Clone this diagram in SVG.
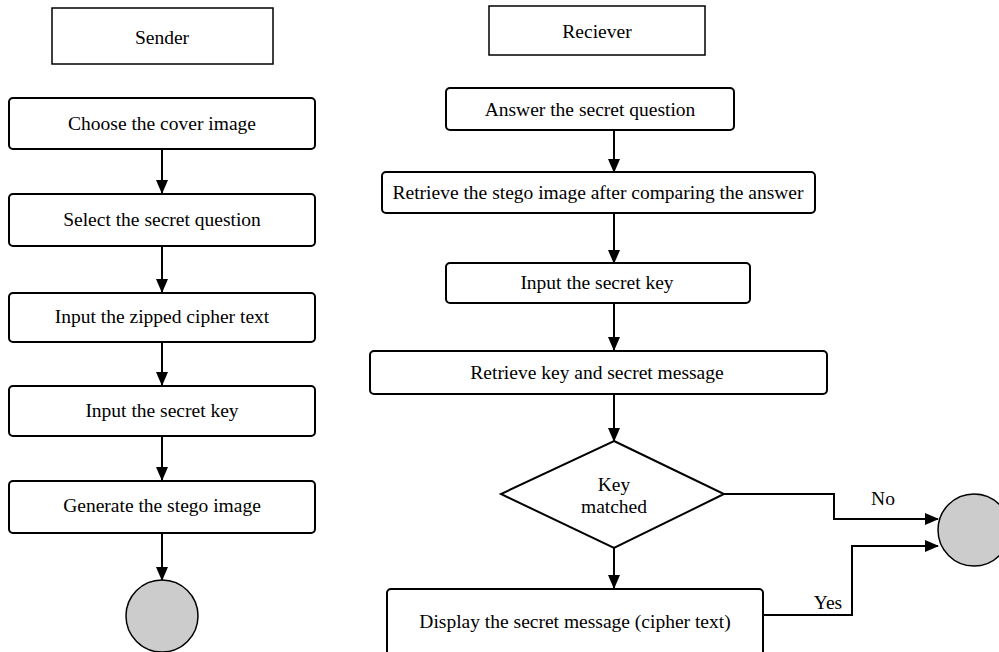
<svg xmlns="http://www.w3.org/2000/svg" width="999" height="652" viewBox="0 0 999 652">
<style>
.hdr{fill:#fff;stroke:#000;stroke-width:1.5}
.box{fill:#fff;stroke:#000;stroke-width:2}
.end{fill:#ccc;stroke:#000;stroke-width:1.5}
.t{font-family:"Liberation Serif","Times New Roman",serif;font-size:19.5px;fill:#000;text-anchor:middle}
.c{fill:none;stroke:#000;stroke-width:2}
</style>
<defs>
<marker id="ah" markerWidth="14" markerHeight="12" refX="13" refY="6" orient="auto" markerUnits="userSpaceOnUse">
<path d="M0,0 L14,6 L0,12 Z" fill="#000"/>
</marker>
</defs>
<g id="sender"><rect class="hdr" x="52" y="8" width="221" height="56"/><text class="t" x="162" y="44">Sender</text></g>
<g id="s1"><rect class="box" x="9" y="98" width="306" height="51" rx="4"/><text class="t" x="162" y="130">Choose the cover image</text></g>
<g id="s2"><rect class="box" x="9" y="194" width="306" height="52" rx="4"/><text class="t" x="162" y="226">Select the secret question</text></g>
<g id="s3"><rect class="box" x="9" y="293" width="306" height="49" rx="4"/><text class="t" x="162" y="323">Input the zipped cipher text</text></g>
<g id="s4"><rect class="box" x="9" y="386" width="306" height="50" rx="4"/><text class="t" x="162" y="417">Input the secret key</text></g>
<g id="s5"><rect class="box" x="9" y="481" width="306" height="52" rx="4"/><text class="t" x="162" y="512">Generate the stego image</text></g>
<g id="s_end"><circle class="end" cx="162" cy="616" r="36"/></g>

<g id="receiver"><rect class="hdr" x="489" y="6" width="216" height="49"/><text class="t" x="597" y="38">Reciever</text></g>
<g id="r1"><rect class="box" x="446" y="88" width="288" height="42" rx="4"/><text class="t" x="590" y="116">Answer the secret question</text></g>
<g id="r2"><rect class="box" x="382" y="172" width="433" height="41" rx="4"/><text class="t" x="598" y="199">Retrieve the stego image after comparing the answer</text></g>
<g id="r3"><rect class="box" x="446" y="263" width="304" height="40" rx="4"/><text class="t" x="597" y="289">Input the secret key</text></g>
<g id="r4"><rect class="box" x="370" y="351" width="457" height="43" rx="4"/><text class="t" x="597" y="379">Retrieve key and secret message</text></g>
<g id="r5"><polygon class="box" points="614,441 724,494 614,548 501,494"/><text class="t" x="614" y="491">Key</text><text class="t" x="614" y="513">matched</text></g>
<g id="r6"><rect class="box" x="387" y="589" width="376" height="80" rx="4"/><text class="t" x="575" y="628">Display the secret message (cipher text)</text></g>
<g id="r_end"><circle class="end" cx="974" cy="530" r="36"/></g>

<g id="connectors">
<line class="c" x1="162" y1="149" x2="162" y2="193" marker-end="url(#ah)"/>
<line class="c" x1="162" y1="246" x2="162" y2="292" marker-end="url(#ah)"/>
<line class="c" x1="162" y1="342" x2="162" y2="385" marker-end="url(#ah)"/>
<line class="c" x1="162" y1="436" x2="162" y2="480" marker-end="url(#ah)"/>
<line class="c" x1="162" y1="533" x2="162" y2="580" marker-end="url(#ah)"/>
<line class="c" x1="614" y1="130" x2="614" y2="172" marker-end="url(#ah)"/>
<line class="c" x1="614" y1="213" x2="614" y2="263" marker-end="url(#ah)"/>
<line class="c" x1="614" y1="303" x2="614" y2="350" marker-end="url(#ah)"/>
<line class="c" x1="614" y1="394" x2="614" y2="441" marker-end="url(#ah)"/>
<line class="c" x1="614" y1="548" x2="614" y2="588" marker-end="url(#ah)"/>
<polyline class="c" points="724,494 834,494 834,519 938,519" marker-end="url(#ah)"/>
<polyline class="c" points="763,615 852,615 852,546 938,546" marker-end="url(#ah)"/>
<text class="t" x="883" y="505">No</text>
<text class="t" x="828" y="609">Yes</text>
</g>
</svg>
